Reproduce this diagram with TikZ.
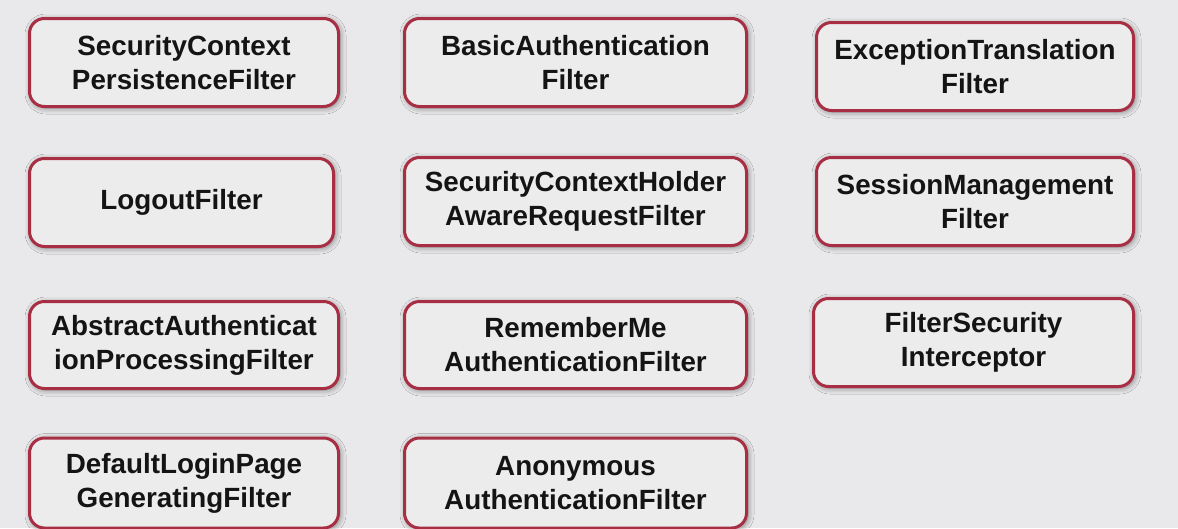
\documentclass[tikz,border=0pt]{standalone}
\usepackage{fontspec}
\setmainfont{Liberation Sans}
\usetikzlibrary{shadows.blur}
\definecolor{bgcol}{RGB}{233,233,235}
\definecolor{boxfill}{RGB}{236,236,237}
\definecolor{boxline}{RGB}{168,46,68}
\tikzset{
  filterbox/.style={draw=boxline, line width=3pt, fill=boxfill, rounded corners=15pt,
    inner sep=0pt, align=center, text=black!92,
    font=\fontsize{27.8}{34}\selectfont\bfseries,
    blur shadow={shadow xshift=1.5pt, shadow yshift=-1.5pt, shadow blur radius=6pt, shadow opacity=50}},
}
\begin{document}
\begin{tikzpicture}[x=1pt,y=-1pt]
\fill[bgcol] (0,0) rectangle (1178,528);
\useasboundingbox (0,0) rectangle (1178,528);
% row 1
\node[filterbox, minimum width=309pt, minimum height=88pt] (scpf) at (184,62.5) {SecurityContext\\PersistenceFilter};
\node[filterbox, minimum width=342pt, minimum height=88pt] (baf) at (575.5,62.5) {BasicAuthentication\\Filter};
\node[filterbox, minimum width=317pt, minimum height=88pt] (etf) at (975,66.5) {ExceptionTranslation\\Filter};
% row 2
\node[filterbox, minimum width=304pt, minimum height=88pt] (lf) at (181.5,202.5) {LogoutFilter};
\node[filterbox, minimum width=342pt, minimum height=88pt] (scharf) at (575.5,201.5) {SecurityContextHolder\\AwareRequestFilter};
\node[filterbox, minimum width=317pt, minimum height=88pt] (smf) at (975,201.5) {SessionManagement\\Filter};
% row 3
\node[filterbox, minimum width=309pt, minimum height=87pt] (aapf) at (184,345) {AbstractAuthenticat\\ionProcessingFilter};
\node[filterbox, minimum width=342pt, minimum height=87pt] (rmaf) at (575.5,345) {RememberMe\\AuthenticationFilter};
\node[filterbox, minimum width=320pt, minimum height=88pt] (fsi) at (973.5,342.5) {FilterSecurity\\Interceptor};
% row 4
\node[filterbox, minimum width=309pt, minimum height=90pt] (dlpgf) at (184,483) {DefaultLoginPage\\GeneratingFilter};
\node[filterbox, minimum width=342pt, minimum height=90pt] (aaf) at (575.5,483) {Anonymous\\AuthenticationFilter};
\end{tikzpicture}
\end{document}
